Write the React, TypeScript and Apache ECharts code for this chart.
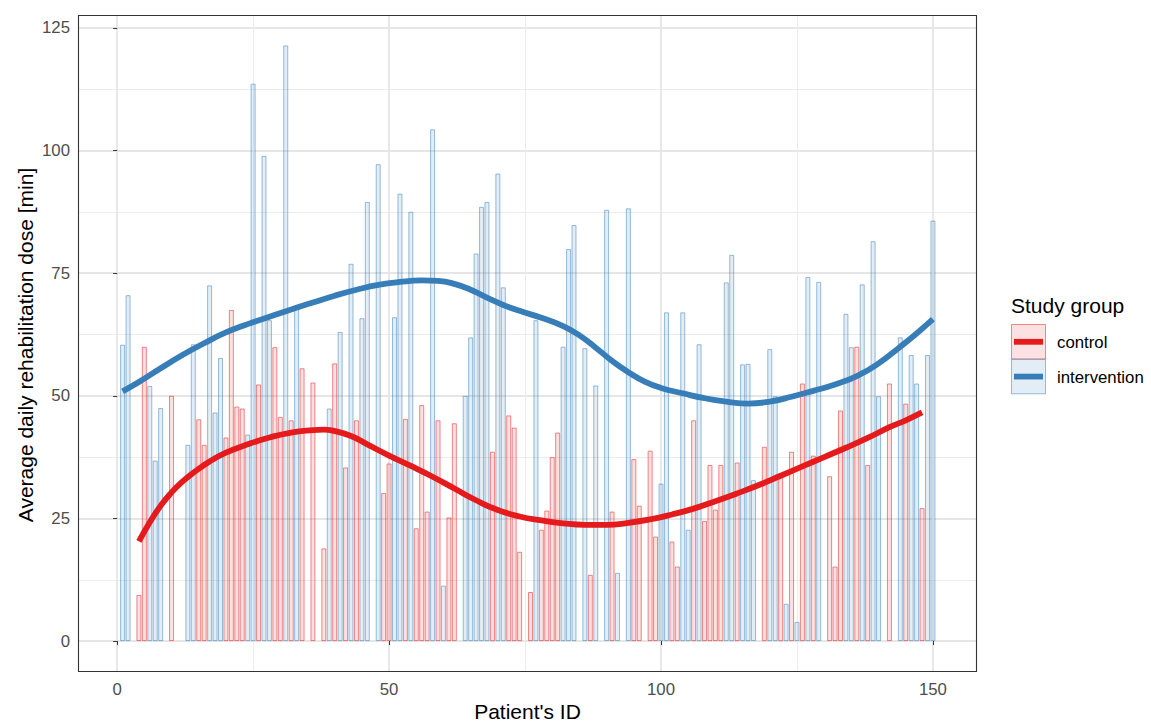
import React, { useEffect, useRef } from "react";
import * as echarts from "echarts";

// ---- data ----
const controlIds = [4, 5, 10, 15, 16, 20, 21, 22, 23, 26, 29, 30, 32, 34, 36, 38, 40, 42, 44, 49, 50, 53, 55, 56, 57, 59, 61, 62, 69, 72, 73, 74, 76, 78, 79, 80, 81, 87, 91, 95, 96, 98, 99, 102, 103, 106, 108, 109, 110, 111, 114, 119, 122, 124, 126, 128, 131, 132, 133, 136, 138, 142, 145, 148];
const controlDose = [9.4, 60.0, 50.0, 45.2, 40.0, 41.5, 67.5, 47.8, 47.4, 52.3, 59.9, 45.7, 45.0, 55.6, 52.7, 18.9, 56.6, 35.4, 45.0, 30.2, 36.2, 45.3, 23.0, 48.1, 26.4, 45.0, 25.2, 44.4, 38.6, 46.0, 43.5, 18.2, 10.0, 22.7, 26.6, 37.5, 42.5, 13.5, 26.4, 37.1, 27.6, 38.8, 21.3, 20.3, 15.2, 45.0, 24.5, 35.9, 26.8, 35.9, 36.4, 39.6, 34.1, 38.6, 52.5, 37.8, 33.6, 15.2, 47.0, 60.0, 35.9, 52.5, 48.4, 27.1];

const interventionIds = [1, 2, 6, 7, 8, 13, 14, 17, 18, 19, 24, 25, 27, 28, 31, 33, 39, 41, 43, 45, 46, 48, 51, 52, 54, 58, 60, 64, 65, 66, 67, 68, 70, 71, 77, 82, 83, 84, 86, 88, 90, 92, 94, 100, 101, 104, 105, 107, 112, 113, 115, 116, 117, 120, 121, 123, 125, 127, 129, 134, 135, 137, 139, 140, 144, 146, 147, 149, 150];
const interventionDose = [60.4, 70.5, 52.0, 36.8, 47.5, 40.0, 60.5, 72.5, 46.6, 57.7, 42.1, 113.6, 98.9, 65.4, 121.4, 67.8, 47.4, 63.0, 76.9, 65.8, 89.5, 97.2, 66.0, 91.2, 87.5, 104.3, 11.3, 50.0, 61.9, 79.0, 88.5, 89.5, 95.3, 72.1, 65.4, 60.0, 79.9, 84.8, 59.7, 52.1, 87.9, 13.9, 88.2, 32.1, 67.0, 67.0, 22.7, 60.5, 73.1, 78.7, 56.4, 56.5, 32.8, 59.5, 49.9, 7.6, 3.9, 74.2, 73.2, 66.7, 59.9, 72.7, 81.5, 49.9, 61.9, 58.3, 52.5, 58.3, 85.7];

// smoothed (loess) curves
const controlSmoothIds = [4, 6, 8, 10, 12, 14, 17, 20, 24, 28, 32, 36, 38, 40, 43, 46, 50, 54, 58, 62, 66, 70, 74, 78, 82, 86, 90, 94, 98, 102, 106, 110, 114, 118, 122, 126, 130, 134, 138, 142, 145, 148];
const controlSmooth = [20.3, 24.2, 27.6, 30.3, 32.5, 34.3, 36.6, 38.4, 40.1, 41.5, 42.5, 43.0, 43.1, 42.8, 41.8, 40.1, 37.8, 35.7, 33.5, 31.1, 28.7, 26.7, 25.4, 24.6, 24.0, 23.7, 23.7, 24.1, 24.8, 25.8, 27.0, 28.5, 30.1, 31.8, 33.7, 35.6, 37.5, 39.4, 41.4, 43.6, 45.0, 46.6];
const interventionSmoothIds = [1, 4, 8, 12, 16, 20, 24, 28, 32, 36, 40, 44, 48, 52, 56, 59, 62, 65, 68, 71, 74, 78, 82, 85, 88, 91, 94, 97, 100, 104, 108, 112, 116, 120, 124, 128, 132, 136, 140, 144, 147, 150];
const interventionSmooth = [50.9, 52.8, 55.6, 58.3, 60.7, 62.9, 64.6, 66.1, 67.6, 69.0, 70.4, 71.6, 72.6, 73.2, 73.5, 73.4, 72.8, 71.6, 70.0, 68.5, 67.3, 65.9, 64.2, 62.3, 59.8, 57.1, 54.8, 52.9, 51.6, 50.5, 49.5, 48.8, 48.4, 48.8, 49.8, 51.0, 52.3, 54.0, 56.6, 60.0, 62.7, 65.6];

const xTicks = [0, 50, 100, 150];
const yTicks = [0, 25, 50, 75, 100, 125];
const groupNames = ["control", "intervention"];

const RED = "#E41A1C";
const BLUE = "#377EB8";
const FONT = "'Liberation Sans', Arial, Helvetica, sans-serif";

const GRID = { left: 78, top: 15, width: 899, height: 657 };

export default function App() {
  const ref = useRef<HTMLDivElement>(null);

  useEffect(() => {
    if (!ref.current) return;
    const chart = echarts.init(ref.current, null, { renderer: "svg" });

    const controlData = controlIds.map((id, i) => [id, controlDose[i]]);
    const interventionData = interventionIds.map((id, i) => [id, interventionDose[i]]);
    const controlLine = controlSmoothIds.map((id, i) => [id, controlSmooth[i]]);
    const interventionLine = interventionSmoothIds.map((id, i) => [id, interventionSmooth[i]]);

    const axisLabelStyle = { color: "#4d4d4d", fontSize: 16.8, fontFamily: FONT };

    chart.setOption({
      animation: false,
      backgroundColor: "#ffffff",
      grid: { ...GRID, show: false },
      xAxis: {
        type: "value",
        min: -7.2,
        max: 158.1,
        minInterval: 50,
        maxInterval: 50,
        axisLine: { show: false },
        axisTick: { show: true, length: 4, customValues: xTicks, lineStyle: { color: "#333333", width: 1 } },
        axisLabel: { ...axisLabelStyle, margin: 9, customValues: xTicks },
        splitLine: { show: true, lineStyle: { color: "#e6e6e6", width: 1.8 } },
        minorTick: { show: false, splitNumber: 2 },
        minorSplitLine: { show: true, lineStyle: { color: "#ececec", width: 1 } },
      },
      yAxis: {
        type: "value",
        min: -6.3,
        max: 127.6,
        minInterval: 25,
        maxInterval: 25,
        axisLine: { show: false },
        axisTick: { show: true, length: 4, customValues: yTicks, lineStyle: { color: "#333333", width: 1 } },
        axisLabel: { ...axisLabelStyle, margin: 8, customValues: yTicks },
        splitLine: { show: true, lineStyle: { color: "#e6e6e6", width: 1.8 } },
        minorTick: { show: false, splitNumber: 2 },
        minorSplitLine: { show: true, lineStyle: { color: "#ececec", width: 1 } },
      },
      series: [
        {
          name: groupNames[0],
          type: "bar",
          data: controlData,
          barWidth: 5,
          barGap: "-100%",
          itemStyle: { color: "rgba(228,26,28,0.13)", borderColor: "rgba(228,26,28,0.5)", borderWidth: 1 },
          z: 2,
        },
        {
          name: groupNames[1],
          type: "bar",
          data: interventionData,
          barWidth: 5,
          barGap: "-100%",
          itemStyle: { color: "rgba(55,126,184,0.14)", borderColor: "rgba(55,126,184,0.5)", borderWidth: 1 },
          z: 2,
        },
        {
          name: groupNames[0] + " smooth",
          type: "line",
          data: controlLine,
          smooth: 0.5,
          showSymbol: false,
          lineStyle: { color: RED, width: 5.8, cap: "butt" },
          z: 5,
        },
        {
          name: groupNames[1] + " smooth",
          type: "line",
          data: interventionLine,
          smooth: 0.5,
          showSymbol: false,
          lineStyle: { color: BLUE, width: 5.8, cap: "butt" },
          z: 5,
        },
      ],
      graphic: [
        {
          type: "rect",
          shape: { x: GRID.left + 0.5, y: GRID.top + 0.5, width: GRID.width - 1, height: GRID.height - 1 },
          style: { fill: "none", stroke: "#333333", lineWidth: 1.1 },
          z: 100,
          silent: true,
        },
        {
          type: "text",
          x: GRID.left + GRID.width / 2,
          y: 711,
          style: { text: "Patient's ID", fill: "#000000", fontSize: 21, fontFamily: FONT, align: "center", verticalAlign: "middle" },
        },
        {
          type: "text",
          x: 25,
          y: GRID.top + 330,
          rotation: Math.PI / 2,
          style: { text: "Average daily rehabilitation dose [min]", fill: "#000000", fontSize: 21, fontFamily: FONT, align: "center", verticalAlign: "middle" },
        },
        {
          type: "text",
          x: 1011,
          y: 305,
          style: { text: "Study group", fill: "#000000", fontSize: 21, fontFamily: FONT, align: "left", verticalAlign: "middle" },
        },
        {
          type: "rect",
          shape: { x: 1011.5, y: 324.5, width: 34, height: 34.5 },
          style: { fill: "rgba(228,26,28,0.13)", stroke: "rgba(228,26,28,0.5)", lineWidth: 1 },
        },
        {
          type: "line",
          shape: { x1: 1014, y1: 341.8, x2: 1043, y2: 341.8 },
          style: { stroke: RED, lineWidth: 5.8 },
        },
        {
          type: "rect",
          shape: { x: 1011.5, y: 359.3, width: 34, height: 34.5 },
          style: { fill: "rgba(55,126,184,0.14)", stroke: "rgba(55,126,184,0.5)", lineWidth: 1 },
        },
        {
          type: "line",
          shape: { x1: 1014, y1: 376.6, x2: 1043, y2: 376.6 },
          style: { stroke: BLUE, lineWidth: 5.8 },
        },
        {
          type: "text",
          x: 1057,
          y: 342,
          style: { text: groupNames[0], fill: "#000000", fontSize: 16.8, fontFamily: FONT, align: "left", verticalAlign: "middle" },
        },
        {
          type: "text",
          x: 1057,
          y: 377,
          style: { text: groupNames[1], fill: "#000000", fontSize: 16.8, fontFamily: FONT, align: "left", verticalAlign: "middle" },
        },
      ],
    });

    return () => chart.dispose();
  }, []);

  return (
    <div
      ref={ref}
      style={{ position: "absolute", left: 0, top: 0, width: 1151, height: 722, background: "#fff" }}
    />
  );
}
